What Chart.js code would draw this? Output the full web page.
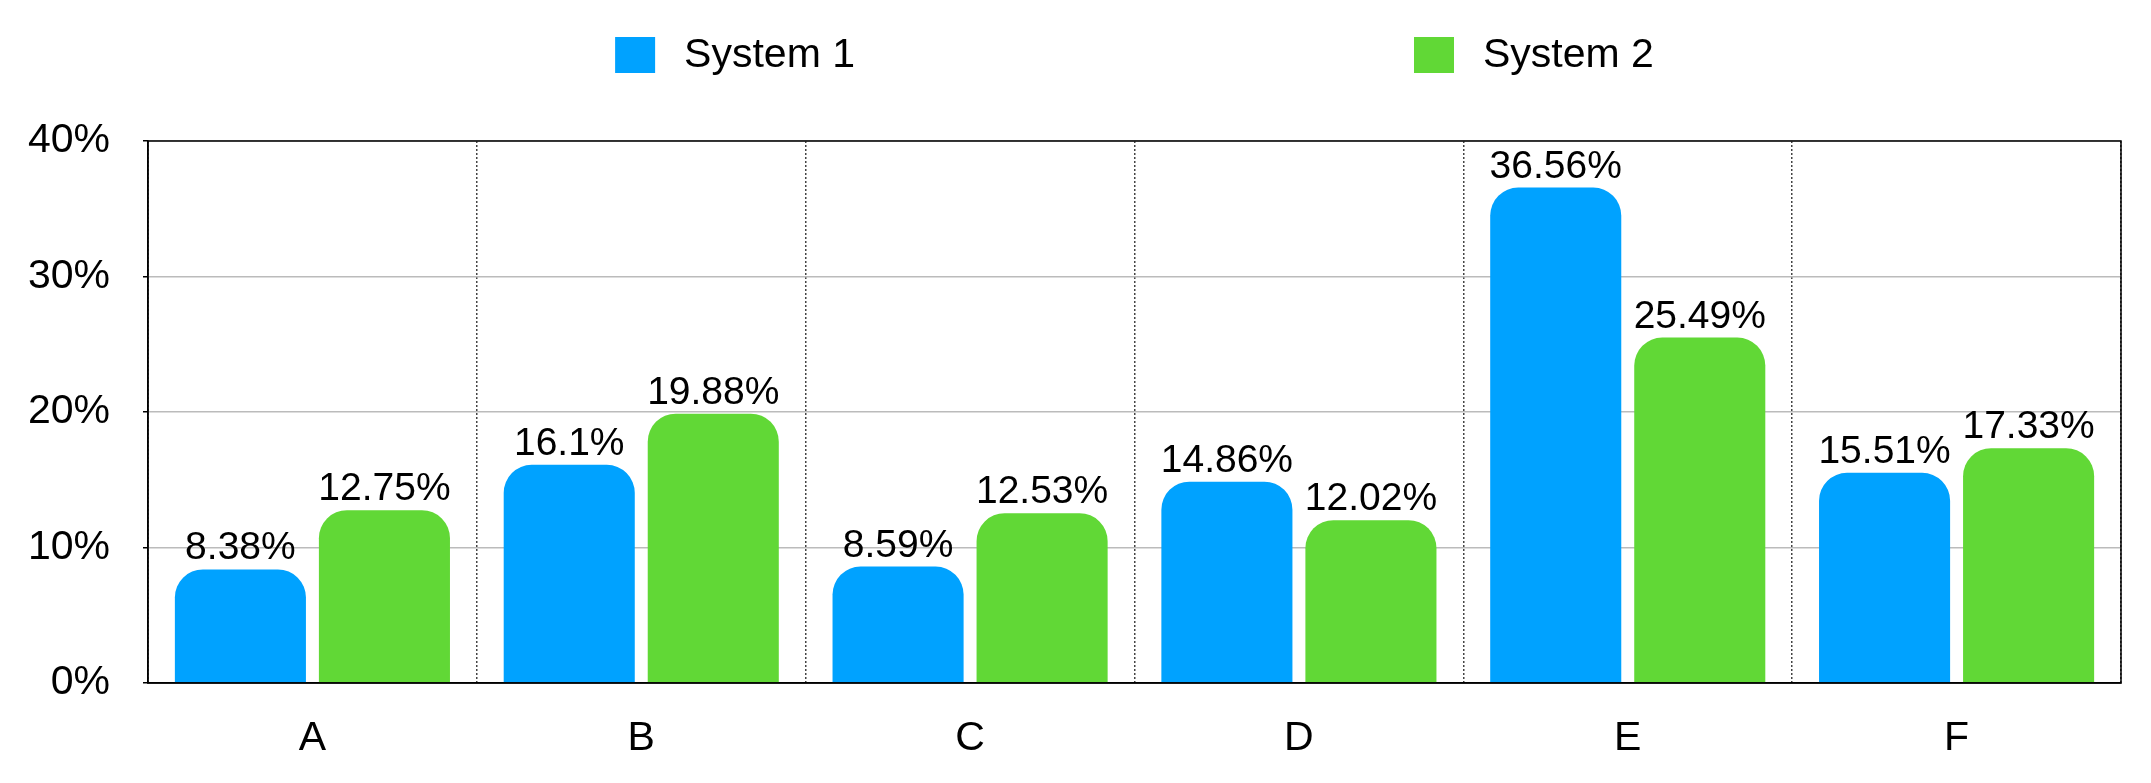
<!DOCTYPE html>
<html>
<head>
<meta charset="utf-8">
<script src="https://cdn.jsdelivr.net/npm/chart.js@4"></script>
<style>
    html, body { margin: 0; padding: 0; background: #fff; }
    #wrap { width: 2151px; height: 783px; position: relative; }
</style>
</head>
<body>
<div id="wrap"><canvas id="chart"></canvas></div>
<script>
const categories = ["A", "B", "C", "D", "E", "F"];
const system1 = [8.38, 16.1, 8.59, 14.86, 36.56, 15.51];
const system2 = [12.75, 19.88, 12.53, 12.02, 25.49, 17.33];
const seriesNames = ["System 1", "System 2"];
const yTicks = [0, 10, 20, 30, 40];

const FONT = '"Liberation Sans", Helvetica, Arial, sans-serif';

// Legend drawn above the plot, centred on the plot area
const topLegend = {
    id: "topLegend",
    afterDraw(chart) {
        const { ctx, chartArea } = chart;
        const boxW = 40, boxH = 36, textGap = 29, itemGap = 559, cy = 55;
        ctx.save();
        ctx.font = "41px " + FONT;
        const items = chart.data.datasets.map(ds => ({
            text: ds.label,
            color: ds.backgroundColor,
            w: boxW + textGap + ctx.measureText(ds.label).width
        }));
        const total = items.reduce((s, it) => s + it.w, 0) + itemGap * (items.length - 1);
        let x = (chartArea.left + chartArea.right) / 2 - total / 2;
        items.forEach(it => {
            ctx.fillStyle = it.color;
            ctx.fillRect(x, cy - boxH / 2, boxW, boxH);
            ctx.fillStyle = "#000";
            ctx.textAlign = "left";
            ctx.textBaseline = "middle";
            ctx.fillText(it.text, x + boxW + textGap, cy + 1);
            x += it.w + itemGap;
        });
        ctx.restore();
    }
};

// Value labels on top of each bar
const valueLabels = {
    id: "valueLabels",
    afterDatasetsDraw(chart) {
        const { ctx } = chart;
        ctx.save();
        ctx.font = "39px " + FONT;
        ctx.fillStyle = "#000";
        ctx.textAlign = "center";
        ctx.textBaseline = "alphabetic";
        chart.data.datasets.forEach((ds, i) => {
            chart.getDatasetMeta(i).data.forEach((bar, j) => {
                ctx.fillText(ds.data[j] + "%", bar.x, bar.y - 10);
            });
        });
        ctx.restore();
    }
};

// Frame round the plot area
const plotFrame = {
    id: "plotFrame",
    afterDraw(chart) {
        const { ctx, chartArea } = chart;
        ctx.save();
        ctx.strokeStyle = "#000";
        ctx.lineWidth = 1.5;
        ctx.strokeRect(chartArea.left, chartArea.top, chartArea.right - chartArea.left, chartArea.bottom - chartArea.top);
        ctx.restore();
    }
};

const ctx = document.getElementById("chart").getContext("2d");
new Chart(ctx, {
    type: "bar",
    data: {
        labels: categories,
        datasets: [
            {
                label: seriesNames[0],
                data: system1,
                backgroundColor: "#00A2FF",
                borderRadius: 28,
                borderSkipped: "start",
                categoryPercentage: 0.876,
                barPercentage: 0.91
            },
            {
                label: seriesNames[1],
                data: system2,
                backgroundColor: "#61D836",
                borderRadius: 28,
                borderSkipped: "start",
                categoryPercentage: 0.876,
                barPercentage: 0.91
            }
        ]
    },
    options: {
        responsive: true,
        maintainAspectRatio: false,
        animation: false,
        devicePixelRatio: 1,
        layout: {
            padding: { top: 141, right: 30, bottom: 0, left: 0 }
        },
        plugins: {
            legend: { display: false },
            tooltip: { enabled: false }
        },
        scales: {
            x: {
                offset: true,
                afterFit: scale => { scale.height = 100; },
                grid: {
                    offset: true,
                    color: "#444",
                    lineWidth: 1.5,
                    drawTicks: false
                },
                border: { display: true, color: "#000", width: 1.5 },
                ticks: {
                    color: "#000",
                    padding: 31,
                    font: { family: FONT, size: 41 }
                }
            },
            y: {
                min: yTicks[0],
                max: yTicks[yTicks.length - 1],
                afterBuildTicks: scale => {
                    scale.ticks = yTicks.map(v => ({ value: v }));
                },
                afterFit: scale => { scale.width = 148; },
                grid: {
                    color: "#bbbbbb",
                    lineWidth: 1.5,
                    tickLength: 5,
                    tickColor: "#000"
                },
                border: { color: "#000", width: 1.5 },
                ticks: {
                    color: "#000",
                    padding: 33,
                    font: { family: FONT, size: 41 },
                    callback: v => v + "%"
                }
            }
        }
    },
    plugins: [valueLabels, plotFrame, topLegend]
});

// dotted vertical separators between categories
const chart = Chart.getChart("chart");
chart.options.scales.x.grid.borderDash = [2, 2];
chart.options.scales.x.border.dash = [2, 2];
chart.update();
</script>
</body>
</html>
